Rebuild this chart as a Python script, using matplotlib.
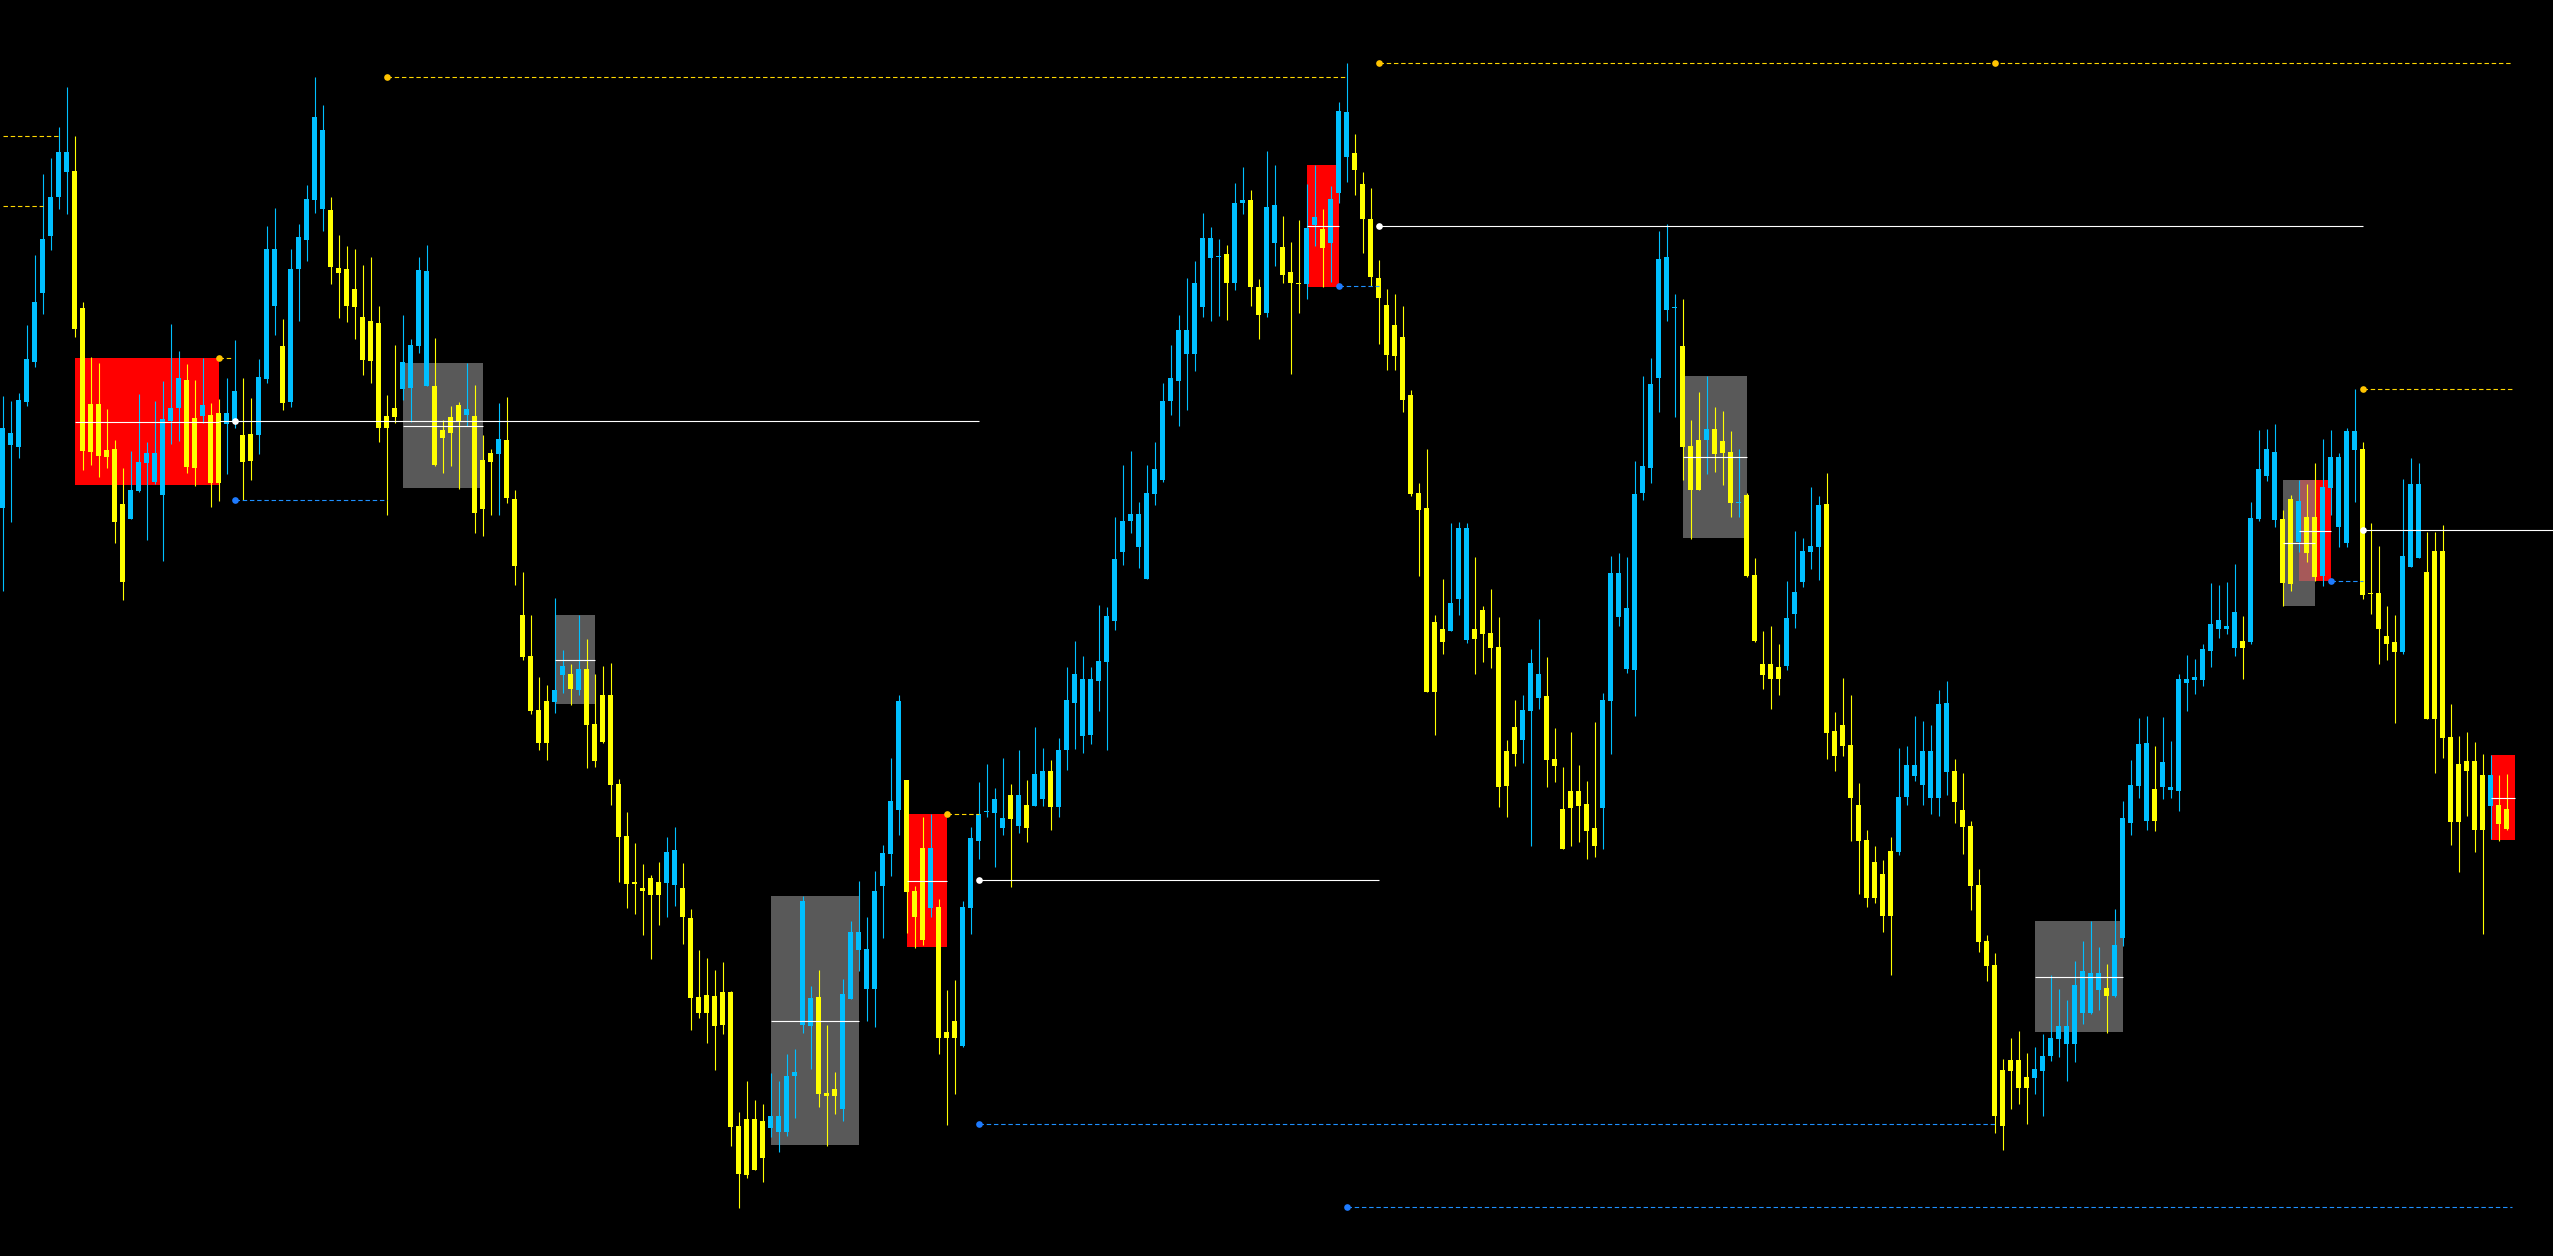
import matplotlib
matplotlib.use("Agg")
import matplotlib.pyplot as plt
from matplotlib.patches import Rectangle
import numpy as np

# OHLC per bar (price units = pixels from the bottom)
open_ = [748, 811, 809, 854, 894, 963, 1020, 1059, 1084, 1085,
         948, 852, 852, 806, 807, 752, 737, 765, 793, 774,
         761, 835, 848, 876, 838, 840, 841, 843, 832, 835,
         821, 822, 821, 877, 950, 910, 854, 987, 1016, 1056,
         1047, 1046, 988, 987, 967, 939, 935, 933, 840, 848,
         867, 868, 910, 870, 870, 826, 839, 851, 841, 840,
         796, 803, 802, 816, 757, 641, 600, 546, 555, 554,
         581, 582, 566, 587, 532, 561, 561, 472, 420, 374,
         368, 378, 374, 373, 371, 368, 338, 259, 261, 260,
         264, 264, 130, 137, 137, 135, 128, 124, 124, 180,
         231, 230, 259, 163, 167, 147, 257, 306, 267, 267,
         370, 402, 446, 476, 365, 408, 348, 349, 224, 235,
         210, 348, 415, 444, 443, 428, 461, 430, 451, 450,
         457, 485, 449, 506, 553, 520, 521, 575, 594, 635,
         704, 735, 709, 677, 762, 776, 855, 875, 902, 902,
         949, 998, 999, 1002, 973, 1053, 1056, 969, 943, 1013,
         1009, 984, 973, 972, 1031, 1027, 1013, 1063, 1099, 1103,
         1072, 1037, 978, 951, 931, 919, 861, 763, 748, 634,
         627, 625, 657, 616, 627, 646, 623, 609, 505, 529,
         516, 545, 558, 560, 497, 447, 465, 465, 452, 428,
         448, 555, 639, 587, 586, 763, 788, 878, 946, 948,
         910, 810, 816, 816, 827, 815, 804, 753, 761, 681,
         592, 592, 589, 590, 642, 674, 704, 709, 752, 525,
         531, 511, 451, 416, 394, 382, 405, 404, 459, 480,
         471, 458, 458, 484, 485, 446, 430, 371, 315, 291,
         186, 196, 196, 179, 178, 185, 200, 217, 212, 212,
         243, 243, 266, 268, 260, 318, 433, 470, 435, 467,
         469, 466, 465, 573, 576, 576, 605, 627, 627, 608,
         615, 614, 737, 780, 736, 737, 757, 714, 739, 739,
         680, 768, 729, 713, 806, 807, 663, 663, 620, 614,
         604, 689, 698, 684, 705, 705, 519, 492, 495, 495,
         481, 450, 451, 447]

high = [860, 855, 863, 931, 1001, 1082, 1098, 1129, 1169, 1120,
        954, 899, 893, 847, 816, 788, 805, 862, 814, 855,
        875, 932, 905, 892, 876, 898, 853, 857, 878, 916,
        878, 858, 897, 1030, 1048, 937, 1007, 1032, 1071, 1179,
        1151, 1059, 1021, 1010, 1007, 991, 999, 950, 861, 911,
        941, 917, 999, 1011, 918, 836, 850, 854, 893, 871,
        821, 807, 853, 859, 766, 684, 641, 579, 571, 658,
        606, 592, 641, 617, 582, 590, 593, 477, 444, 413,
        392, 381, 394, 419, 429, 393, 347, 306, 298, 286,
        294, 265, 144, 175, 156, 152, 183, 175, 202, 207,
        360, 270, 286, 231, 184, 277, 335, 375, 339, 385,
        411, 498, 561, 476, 370, 439, 442, 357, 266, 276,
        355, 429, 474, 492, 468, 498, 472, 506, 476, 529,
        508, 496, 518, 589, 615, 600, 589, 651, 649, 739,
        791, 805, 754, 791, 814, 873, 911, 941, 978, 995,
        1043, 1029, 1017, 1011, 1073, 1089, 1066, 977, 1105, 1091,
        1040, 1014, 1036, 1072, 1091, 1047, 1070, 1154, 1193, 1122,
        1084, 1068, 996, 967, 962, 950, 866, 773, 807, 641,
        677, 733, 734, 733, 699, 650, 667, 639, 516, 556,
        561, 607, 637, 599, 528, 489, 524, 491, 475, 534,
        563, 700, 703, 699, 795, 880, 898, 1025, 1032, 962,
        957, 836, 864, 880, 849, 845, 825, 807, 763, 698,
        625, 630, 612, 675, 725, 718, 769, 760, 783, 544,
        578, 561, 473, 426, 410, 396, 419, 508, 510, 540,
        535, 531, 566, 575, 497, 483, 435, 387, 321, 303,
        197, 218, 225, 203, 209, 222, 281, 267, 256, 295,
        315, 335, 309, 292, 347, 455, 496, 538, 540, 510,
        539, 515, 582, 601, 597, 612, 673, 671, 674, 692,
        640, 754, 826, 827, 832, 746, 761, 776, 772, 793,
        817, 826, 803, 828, 867, 814, 733, 710, 650, 641,
        777, 798, 793, 724, 724, 731, 552, 520, 524, 514,
        502, 501, 481, 482]

low = [665, 734, 798, 850, 889, 942, 1006, 1047, 1042, 919,
       786, 791, 779, 788, 713, 656, 737, 764, 716, 772,
       695, 812, 815, 783, 770, 833, 749, 755, 782, 828,
       756, 776, 802, 873, 921, 846, 849, 935, 995, 1043,
       1025, 972, 938, 934, 917, 881, 873, 814, 741, 833,
       856, 834, 903, 870, 790, 783, 790, 767, 830, 723,
       720, 741, 741, 753, 671, 596, 542, 506, 496, 543,
       563, 551, 561, 488, 489, 513, 451, 374, 348, 342,
       321, 297, 331, 339, 350, 312, 226, 238, 213, 186,
       222, 110, 48, 78, 86, 74, 119, 104, 120, 138,
       223, 187, 149, 110, 142, 135, 257, 285, 235, 229,
       318, 380, 421, 323, 308, 311, 339, 202, 131, 162,
       209, 322, 397, 439, 389, 421, 369, 423, 414, 450,
       450, 426, 439, 486, 507, 503, 512, 545, 506, 626,
       691, 723, 688, 677, 751, 774, 841, 830, 846, 885,
       939, 935, 940, 936, 966, 1042, 950, 917, 939, 990,
       973, 882, 943, 957, 1010, 969, 974, 1053, 1074, 1061,
       1003, 970, 912, 886, 886, 844, 760, 680, 564, 521,
       602, 625, 641, 613, 582, 594, 588, 449, 439, 490,
       493, 410, 547, 469, 474, 407, 410, 414, 397, 399,
       407, 502, 630, 583, 540, 756, 773, 844, 935, 839,
       776, 717, 766, 782, 784, 771, 739, 739, 679, 614,
       567, 547, 561, 586, 628, 669, 687, 676, 497, 485,
       500, 415, 362, 349, 353, 324, 281, 401, 451, 475,
       451, 442, 440, 461, 433, 402, 346, 304, 275, 123,
       106, 147, 152, 132, 162, 140, 195, 199, 175, 194,
       232, 242, 246, 223, 259, 310, 421, 458, 426, 425,
       457, 458, 445, 545, 562, 570, 589, 618, 622, 600,
       577, 612, 735, 775, 729, 650, 665, 704, 694, 675,
       670, 741, 709, 709, 754, 657, 642, 592, 596, 533,
       602, 689, 698, 537, 483, 498, 411, 384, 440, 404,
       322, 417, 415, 426]

close = [828, 823, 856, 897, 954, 1017, 1059, 1104, 1104, 927,
         805, 804, 800, 799, 734, 674, 766, 794, 803, 803,
         837, 848, 878, 789, 788, 851, 773, 773, 843, 865,
         794, 795, 879, 1007, 1007, 853, 987, 1019, 1057, 1139,
         1126, 989, 983, 950, 949, 896, 895, 828, 828, 839,
         894, 911, 986, 985, 791, 818, 823, 834, 847, 743,
         747, 794, 817, 758, 690, 599, 545, 513, 513, 566,
         590, 567, 587, 531, 495, 514, 471, 419, 372, 372,
         365, 361, 361, 404, 406, 339, 258, 243, 243, 230,
         231, 129, 82, 81, 86, 98, 140, 140, 180, 184,
         355, 258, 162, 160, 160, 262, 324, 324, 307, 365,
         403, 455, 555, 364, 339, 316, 408, 218, 218, 218,
         349, 418, 442, 445, 457, 438, 437, 461, 428, 482,
         485, 449, 506, 556, 582, 577, 577, 595, 640, 697,
         735, 742, 742, 763, 787, 855, 878, 926, 926, 973,
         1018, 1018, 1000, 973, 1053, 1056, 969, 941, 1049, 1051,
         981, 973, 972, 1028, 1039, 1008, 1057, 1145, 1144, 1086,
         1037, 979, 958, 901, 900, 856, 762, 746, 564, 564,
         614, 653, 728, 728, 617, 622, 608, 469, 470, 502,
         546, 593, 582, 496, 490, 407, 448, 450, 425, 410,
         556, 683, 683, 648, 762, 790, 872, 997, 999, 949,
         809, 766, 766, 827, 802, 803, 753, 754, 680, 615,
         581, 577, 577, 638, 664, 705, 710, 751, 523, 500,
         510, 458, 415, 358, 358, 340, 340, 459, 491, 491,
         505, 505, 552, 553, 454, 429, 370, 314, 290, 140,
         130, 185, 168, 168, 187, 200, 218, 230, 230, 271,
         285, 283, 283, 260, 311, 438, 471, 512, 513, 435,
         494, 469, 577, 577, 579, 607, 632, 636, 630, 644,
         608, 738, 787, 807, 804, 673, 672, 755, 703, 679,
         769, 799, 799, 825, 825, 661, 662, 627, 612, 604,
         700, 772, 772, 537, 537, 518, 434, 434, 485, 426,
         426, 481, 432, 427]

# zones: (first bar, last bar, bottom price, top price)
red_zones = [(9, 27, 771, 898), (113, 118, 309, 442), (163, 167, 969, 1091),
             (287, 291, 675, 776), (311, 314, 416, 501)]
gray_zones = [(50, 60, 768, 893), (69, 74, 552, 641), (96, 107, 111, 360),
              (210, 218, 718, 880), (254, 265, 224, 335), (285, 289, 650, 776)]

# level lines: (start bar, end bar, price, bars that carry a dot)
yellow_levels = [(0, 7, 1120, []), (0, 5, 1050, []), (27, 28.8, 898, [27]),
                 (48, 168, 1179, [48]), (118, 122, 442, [118]),
                 (172, 313.7, 1193, [172, 249]), (295, 313.7, 867, [295])]
blue_levels = [(29, 48, 756, [29]), (167, 172, 970, [167]), (122, 249, 132, [122]),
               (168, 313.7, 49, [168]), (291, 295, 675, [291])]
white_levels = [(27, 122, 835, [29]), (172, 295, 1030, [172]),
                (122, 172, 376, [122]), (295, 319, 726, [295])]

BULL = "#00BFFF"
BEAR = "#FFFF00"

fig = plt.figure(figsize=(25.53, 12.56), dpi=100, facecolor="black")
ax = fig.add_axes([0, 0, 1, 1])
ax.set_facecolor("black")
ax.set_axis_off()

o = np.array(open_)
h = np.array(high)
l = np.array(low)
c = np.array(close)
x = np.arange(len(o))
colors = np.where(c >= o, BULL, BEAR)

# zones sit behind the bars, grey is see-through over red
for zones, col, alpha, z in ((red_zones, "#FF0000", 1.0, 1), (gray_zones, "#808080", 0.7, 1.5)):
    for x0, x1, lo, hi in zones:
        ax.add_patch(Rectangle((x0, lo), x1 - x0, hi - lo, facecolor=col, alpha=alpha,
                               linewidth=0, zorder=z))
        ax.hlines((lo + hi) / 2, x0, x1, colors="white", linewidth=0.8, zorder=4)

# candles
ax.vlines(x, l, h, colors=colors, linewidth=0.8, zorder=3)
body = np.maximum(np.abs(c - o), 1.5)
ax.bar(x, body, bottom=np.minimum(o, c), width=0.625, color=colors, linewidth=0, zorder=3)


def draw_levels(levels, color, dotcolor, style):
    for x0, x1, y, dots in levels:
        ax.hlines(y, x0, x1, colors=color, linewidth=0.8, linestyles=style, zorder=4)
        if dots:
            ax.plot(dots, [y] * len(dots), "o", color=dotcolor, markersize=4.8,
                    markeredgewidth=0, zorder=5)


draw_levels(yellow_levels, "#FFD700", "#FFC400", (0, (4, 2.5)))
draw_levels(blue_levels, "#1E90FF", "#1E7BFF", (0, (4, 2.5)))
draw_levels(white_levels, "white", "white", "solid")

ax.set_xlim(-0.334, 318.79)
ax.set_ylim(0, 1256)

fig.savefig("out.png", dpi=100, facecolor="black")
